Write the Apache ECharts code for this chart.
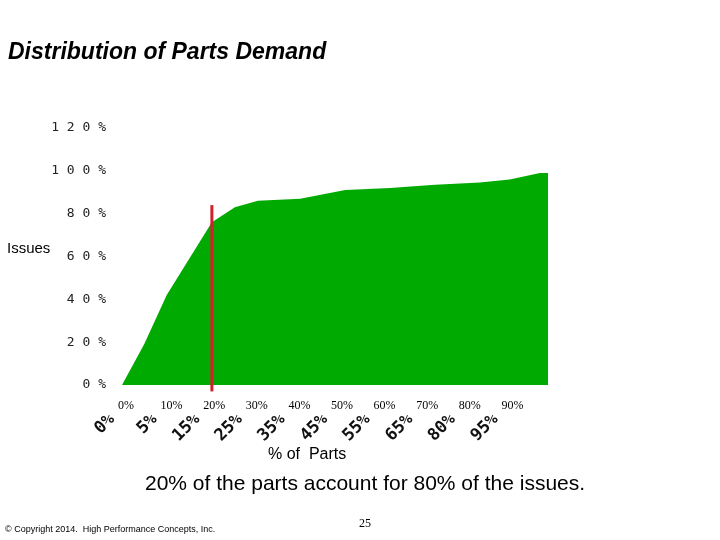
<!DOCTYPE html><html><head><meta charset="utf-8"><script src="https://cdn.jsdelivr.net/npm/echarts@6/dist/echarts.min.js"></script></head><body style="margin:0"><div id="c" style="width:720px;height:540px"></div><script>
const xPos=[0,0.52,1.05,2.11,2.65,3.19,4.18,5.24,6.29,7.35,8.4,9.1,9.81,10];
const yVals=[0,19,42,76,83,86,87,91,92,93.5,94.5,96,99,99];
const topLabels=['0%','10%','20%','30%','40%','50%','60%','70%','80%','90%',''];
const rotLabels=['0%','5%','15%','25%','35%','45%','55%','65%','80%','95%',''];
const yTicks=['0%','20%','40%','60%','80%','100%','120%'];
const redLine=[[2.11,-3],[2.11,84]];
const ch=echarts.init(document.getElementById('c'));
ch.setOption({animation:false,backgroundColor:'#fff',
grid:{left:122,right:172,top:128,bottom:155},
xAxis:[{type:'value',min:0,max:10,interval:1,axisLine:{show:false},axisTick:{show:false},splitLine:{show:false},
 axisLabel:{formatter:(v)=>topLabels[v],fontFamily:'Liberation Serif',fontSize:12,color:'#000',margin:15,align:'left',padding:[0,0,0,-4]}},
 {type:'value',position:'bottom',offset:24,min:0,max:10,interval:1,axisLine:{show:false},axisTick:{show:false},splitLine:{show:false},
 axisLabel:{formatter:(v)=>rotLabels[v],rotate:45,fontFamily:'DejaVu Sans Mono',fontWeight:'bold',fontSize:17,color:'#111',margin:-2,padding:[0,14,0,0]}}],
yAxis:{type:'value',min:0,max:120,interval:20,axisLine:{show:false},axisTick:{show:false},splitLine:{show:false},
 axisLabel:{formatter:(v)=>yTicks[v/20].split('').join(' '),fontFamily:'DejaVu Sans Mono',fontSize:13,color:'#222',margin:16}},
series:[{type:'line',data:xPos.map((x,i)=>[x,yVals[i]]),symbol:'none',lineStyle:{width:0},areaStyle:{color:'#00aa00',opacity:1}},
 {type:'line',data:redLine,symbol:'none',clip:false,lineStyle:{color:'#d0202a',width:3},z:5}],
graphic:[
{type:'text',left:8,top:41,style:{text:'Distribution of Parts Demand',font:'italic bold 23px Liberation Sans',fill:'#000'}},
{type:'text',left:7,top:241,style:{text:'Issues',font:'15px Liberation Sans',fill:'#000'}},
{type:'text',left:268,top:447,style:{text:'% of  Parts',font:'16px Liberation Sans',fill:'#000'}},
{type:'text',left:145,top:474,style:{text:'20% of the parts account for 80% of the issues.',font:'21px Liberation Sans',fill:'#000'}},
{type:'text',left:5,top:525,style:{text:'© Copyright 2014.  High Performance Concepts, Inc.',font:'9px Liberation Sans',fill:'#000'}},
{type:'text',left:359,top:518,style:{text:'25',font:'12px Liberation Serif',fill:'#000'}}
]});
</script></body></html>
